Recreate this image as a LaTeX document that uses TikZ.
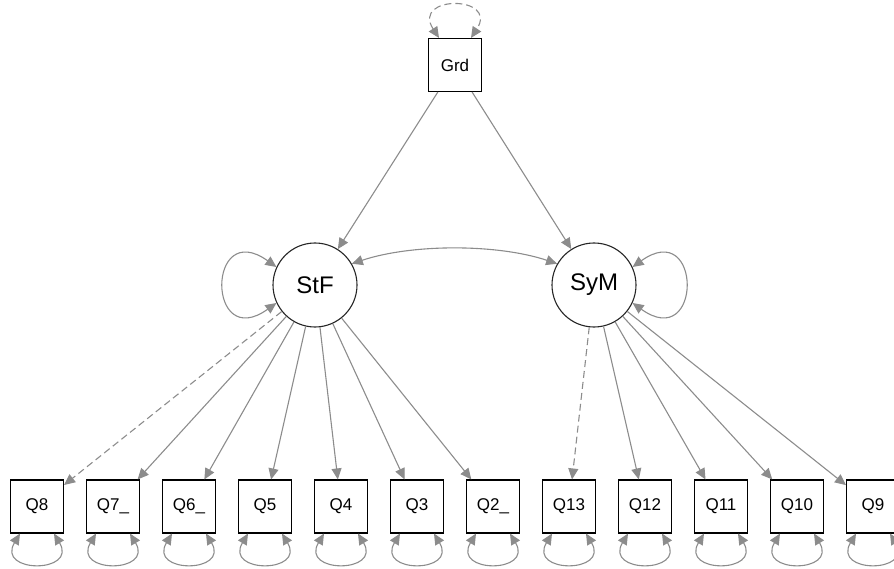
\documentclass[tikz,border=0pt]{standalone}
\usepackage{fontspec}
\setmainfont{Liberation Sans}
\usetikzlibrary{arrows.meta}

\tikzset{
  manifest/.style={rectangle, draw=black, line width=1.1pt, minimum size=53pt, inner sep=0pt, font=\fontsize{17}{19}\selectfont},
  latent/.style={circle, draw=black!85, line width=1.1pt, minimum size=84pt, inner sep=0pt, font=\fontsize{24}{26}\selectfont},
  path/.style={draw=black!45, line width=1.1pt, -{Triangle[length=11pt, width=10pt]}},
  twoway/.style={draw=black!45, line width=1.1pt, {Triangle[length=11pt, width=10pt]}-{Triangle[length=11pt, width=10pt]}},
  fixed/.style={dash pattern=on 7pt off 4pt}
}

\begin{document}
\begin{tikzpicture}[x=1pt, y=-1pt]
\useasboundingbox (0, 0) rectangle (894, 569);

\node[manifest] (Grd) at (455, 65) {Grd};
\node[latent] (StF) at (315, 285) {StF};
\node[latent] (SyM) at (594, 285) {SyM};

% indicators, left to right
\foreach \q/\lab [count=\i from 0] in {Q8/Q8, Q7/Q7\_, Q6/Q6\_, Q5/Q5, Q4/Q4, Q3/Q3, Q2/Q2\_, Q13/Q13, Q12/Q12, Q11/Q11, Q10/Q10, Q9/Q9}
  \node[manifest] (\q) at (37 + 76*\i, 506.5) {\lab};

% regressions
\draw[path] (Grd) -- (StF);
\draw[path] (Grd) -- (SyM);

% loadings
\draw[path, fixed] (StF) -- (Q8);
\foreach \q in {Q7, Q6, Q5, Q4, Q3, Q2}
  \draw[path] (StF) -- (\q);
\draw[path, fixed] (SyM) -- (Q13);
\foreach \q in {Q12, Q11, Q10, Q9}
  \draw[path] (SyM) -- (\q);

% covariance
\draw[twoway] (StF.30) .. controls +(60, -20) and +(-60, -20) .. (SyM.150);

% variances
\draw[twoway, fixed] ([xshift=-16pt]Grd.north) .. controls +(-28, -43) and +(28, -43) .. ([xshift=16pt]Grd.north);
\draw[twoway] (StF.155) .. controls +(-70, -50) and +(-70, 50) .. (StF.205);
\draw[twoway] (SyM.25) .. controls +(70, -50) and +(70, 50) .. (SyM.-25);
\foreach \q in {Q8, Q7, Q6, Q5, Q4, Q3, Q2, Q13, Q12, Q11, Q10, Q9}
  \draw[twoway] ([xshift=-17pt]\q.south) .. controls +(-24, 40) and +(24, 40) .. ([xshift=17pt]\q.south);
\end{tikzpicture}
\end{document}
